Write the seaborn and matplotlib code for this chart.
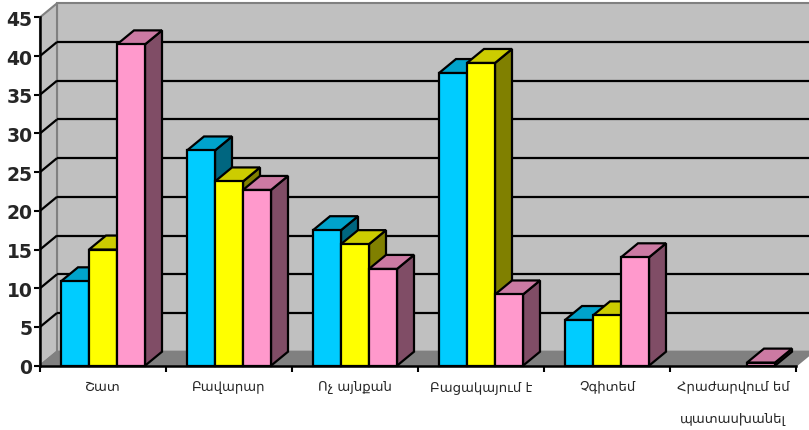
import numpy as np
import pandas as pd
import matplotlib
matplotlib.use("Agg")
import matplotlib.pyplot as plt
from matplotlib.patches import Polygon, Rectangle
from matplotlib.colors import to_rgb
import seaborn as sns

# Survey answers (percent) for three respondent groups
categories = ["Շատ", "Բավարար", "Ոչ այնքան", "Բացակայում է", "Չգիտեմ",
              "Հրաժարվում եմ\nպատասխանել"]
group_1 = [10.9, 27.8, 17.5, 37.8, 5.9, 0.0]
group_2 = [15.0, 23.8, 15.7, 39.1, 6.5, 0.0]
group_3 = [41.5, 22.7, 12.5, 9.2, 14.0, 0.4]
series_names = ["Խումբ 1", "Խումբ 2", "Խումբ 3"]
front_colors = ["#00CCFF", "#FFFF00", "#FF99CC"]
y_ticks = list(range(0, 50, 5))

rows = []
for name, vals in zip(series_names, [group_1, group_2, group_3]):
    for cat, v in zip(categories, vals):
        rows.append({"category": cat, "series": name, "value": v})
df = pd.DataFrame(rows)

sns.set_style("white")
plt.rcParams["font.family"] = ["DejaVu Sans"]

W, H = 809, 431
fig = plt.figure(figsize=(W / 100, H / 100), dpi=100)
ax_left, ax_right, ax_bottom, ax_top = 40, 796, 366.7, 18.3
ax = fig.add_axes([ax_left / W, (H - ax_bottom) / H,
                   (ax_right - ax_left) / W, (ax_bottom - ax_top) / H])

sns.barplot(data=df, x="category", y="value", hue="series",
            palette=front_colors, saturation=1, width=2 / 3,
            edgecolor="black", linewidth=1.6, legend=False, ax=ax)

xmin, xmax, ymin, ymax = -0.5, len(categories) - 0.5, 0, 45
ax.set_xlim(xmin, xmax)
ax.set_ylim(ymin, ymax)
ax.patch.set_visible(False)

# depth of the pseudo-3D box, converted from pixels to data units
px_x = (ax_right - ax_left) / (xmax - xmin)
px_y = (ax_bottom - ax_top) / (ymax - ymin)
dx, dy = 17 / px_x, 14 / px_y

wall_c, floor_c, edge_c = "#C0C0C0", "#808080", "#808080"
back_wall = Polygon([(xmin + dx, ymin + dy), (xmax + dx, ymin + dy),
                     (xmax + dx, ymax + dy), (xmin + dx, ymax + dy)],
                    closed=True, facecolor=wall_c, edgecolor=edge_c,
                    linewidth=1.5, zorder=0.5, clip_on=False)
side_wall = Polygon([(xmin, ymin), (xmin + dx, ymin + dy),
                     (xmin + dx, ymax + dy), (xmin, ymax)],
                    closed=True, facecolor=wall_c, edgecolor=edge_c,
                    linewidth=1.5, zorder=0.6, clip_on=False)
floor = Polygon([(xmin, ymin), (xmax, ymin), (xmax + dx, ymin + dy),
                 (xmin + dx, ymin + dy)],
                closed=True, facecolor=floor_c, edgecolor=edge_c,
                linewidth=1.5, zorder=0.7, clip_on=False)
for p in (back_wall, side_wall, floor):
    ax.add_patch(p)

for v in y_ticks[1:-1]:
    ax.plot([xmin + dx, xmax + dx], [v + dy, v + dy], color="black",
            lw=1.6, zorder=0.8, clip_on=False, solid_capstyle="butt")
    ax.plot([xmin, xmin + dx], [v, v + dy], color="black",
            lw=1.6, zorder=0.8, clip_on=False, solid_capstyle="butt")

# top and side faces for every bar, drawn left to right
bars = [b for b in list(ax.patches)[:len(df)] if isinstance(b, Rectangle)]
bars = sorted(bars, key=lambda r: r.get_x())
for i, bar in enumerate(bars):
    x0, w, h = bar.get_x(), bar.get_width(), bar.get_height()
    base = 2 + i * 0.01
    if h <= 0:
        bar.set_visible(False)
        continue
    rgb = np.array(to_rgb(bar.get_facecolor()))
    x1 = x0 + w
    side = Polygon([(x1, 0), (x1 + dx, dy), (x1 + dx, h + dy), (x1, h)],
                   closed=True, facecolor=rgb * 0.5, edgecolor="black",
                   linewidth=1.6, zorder=base, clip_on=False)
    top = Polygon([(x0, h), (x1, h), (x1 + dx, h + dy), (x0 + dx, h + dy)],
                  closed=True, facecolor=rgb * 0.8, edgecolor="black",
                  linewidth=1.6, zorder=base, clip_on=False)
    ax.add_patch(side)
    ax.add_patch(top)
    bar.set_zorder(base + 0.005)
    bar.set_clip_on(False)

for s in ("top", "right"):
    ax.spines[s].set_visible(False)
for s in ("left", "bottom"):
    ax.spines[s].set_color("black")
    ax.spines[s].set_linewidth(1.8)
    ax.spines[s].set_zorder(5)

ax.set_yticks(y_ticks)
ax.set_yticklabels([str(t) for t in y_ticks], fontsize=13.5,
                   family="DejaVu Sans", fontweight="bold")
ax.tick_params(axis="y", direction="out", length=4.5, width=1.5,
               color="black", pad=1, left=True)

ax.set_xticks(np.arange(xmin, xmax + 0.5, 1))
ax.set_xticklabels([])
ax.set_xticks(np.arange(len(categories)), minor=True)
ax.set_xticklabels(categories, minor=True, fontsize=9.5, family="DejaVu Sans")
ax.tick_params(axis="x", which="major", direction="out", length=4.5,
               width=1.5, color="black", bottom=True)
ax.tick_params(axis="x", which="minor", length=0, pad=10)
ax.get_xticklabels(minor=True)[-1].set_linespacing(2.9)

ax.set_xlabel("")
ax.set_ylabel("")

fig.savefig("out.png", dpi=100)
